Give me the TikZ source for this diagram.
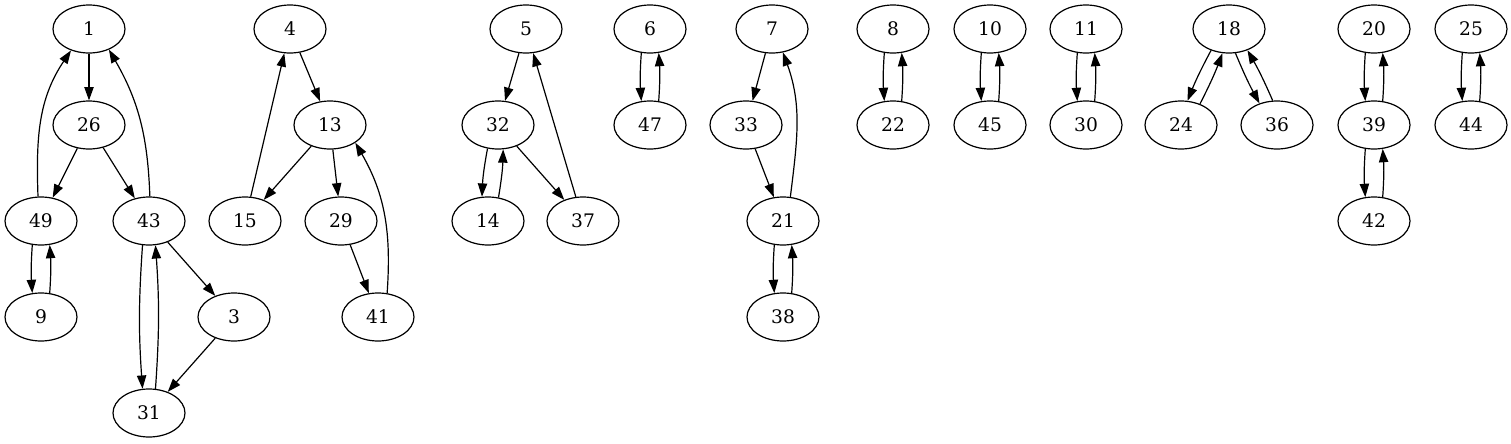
\documentclass[tikz,border=0pt]{standalone}
\usepackage{fontspec}
\setmainfont{DejaVu Serif}
\usetikzlibrary{shapes.geometric,arrows.meta}
\begin{document}
\begin{tikzpicture}[x=0.75pt,y=-0.75pt,
  gnode/.style={ellipse,draw,line width=0.9pt,minimum width=54pt,minimum height=36pt,inner sep=0pt,font=\fontsize{14}{16}\selectfont},
  garrow/.style={-{Triangle[length=10pt,width=7pt]},line width=0.9pt},
  pairb/.style={garrow,bend right=4}]
\useasboundingbox (0,0) rectangle (1511,443);
% nodes
\node[gnode] (n1)  at (89,29)  {1};
\node[gnode] (n26) at (89,125) {26};
\node[gnode] (n49) at (41,221) {49};
\node[gnode] (n43) at (149,221) {43};
\node[gnode] (n9)  at (41,317) {9};
\node[gnode] (n3)  at (234,317) {3};
\node[gnode] (n31) at (149,413) {31};
\node[gnode] (n4)  at (290,29) {4};
\node[gnode] (n13) at (330,125) {13};
\node[gnode] (n15) at (245,221) {15};
\node[gnode] (n29) at (341,221) {29};
\node[gnode] (n41) at (378,317) {41};
\node[gnode] (n5)  at (526,29) {5};
\node[gnode] (n32) at (498,125) {32};
\node[gnode] (n14) at (488,221) {14};
\node[gnode] (n37) at (583,221) {37};
\node[gnode] (n6)  at (650,29) {6};
\node[gnode] (n47) at (650,125) {47};
\node[gnode] (n7)  at (772,29) {7};
\node[gnode] (n33) at (746,125) {33};
\node[gnode] (n21) at (783,221) {21};
\node[gnode] (n38) at (783,317) {38};
\node[gnode] (n8)  at (893,29) {8};
\node[gnode] (n22) at (893,125) {22};
\node[gnode] (n10) at (990,29) {10};
\node[gnode] (n45) at (990,125) {45};
\node[gnode] (n11) at (1086,29) {11};
\node[gnode] (n30) at (1086,125) {30};
\node[gnode] (n18) at (1229,29) {18};
\node[gnode] (n24) at (1181,125) {24};
\node[gnode] (n36) at (1277,125) {36};
\node[gnode] (n20) at (1374,29) {20};
\node[gnode] (n39) at (1374,125) {39};
\node[gnode] (n42) at (1374,221) {42};
\node[gnode] (n25) at (1471,29) {25};
\node[gnode] (n44) at (1471,125) {44};
% edges
\draw[garrow] (n1) -- (n26);
\draw[garrow] (n26) -- (n49);
\draw[garrow] (n26) -- (n43);
\draw[garrow] (n49.97) to[out=92,in=236] (n1.230);
\draw[garrow] (n43.88) to[out=92,in=300] (n1.314);
\draw[pairb] (n49.250) to (n9.110);
\draw[pairb] (n9.70) to (n49.290);
\draw[pairb] (n43.255) to (n31.105);
\draw[pairb] (n31.75) to (n43.285);
\draw[garrow] (n43) -- (n3);
\draw[garrow] (n3) -- (n31);
\draw[garrow] (n4) -- (n13);
\draw[garrow] (n13) -- (n15);
\draw[garrow] (n13) -- (n29);
\draw[garrow] (n15) -- (n4);
\draw[garrow] (n29) -- (n41);
\draw[garrow] (n41.69) to[out=86,in=300] (n13.325);
\draw[garrow] (n5) -- (n32);
\draw[pairb] (n32.246) to (n14.104);
\draw[pairb] (n14.66) to (n32.282);
\draw[garrow] (n32) -- (n37);
\draw[garrow] (n37) -- (n5);
\draw[pairb] (n6.250) to (n47.110);
\draw[pairb] (n47.70) to (n6.290);
\draw[garrow] (n7) -- (n33);
\draw[garrow] (n33) -- (n21);
\draw[garrow] (n21.73) to[out=83,in=290] (n7.295);
\draw[pairb] (n21.250) to (n38.110);
\draw[pairb] (n38.70) to (n21.290);
\draw[pairb] (n8.250) to (n22.110);
\draw[pairb] (n22.70) to (n8.290);
\draw[pairb] (n10.250) to (n45.110);
\draw[pairb] (n45.70) to (n10.290);
\draw[pairb] (n11.250) to (n30.110);
\draw[pairb] (n30.70) to (n11.290);
\draw[garrow] (n18.230) to[bend right=3] (n24.75);
\draw[garrow] (n24.48) to[bend right=3] (n18.255);
\draw[garrow] (n18.285) to[bend right=3] (n36.129);
\draw[garrow] (n36.100) to[bend right=3] (n18.311);
\draw[pairb] (n20.250) to (n39.110);
\draw[pairb] (n39.70) to (n20.290);
\draw[pairb] (n39.250) to (n42.110);
\draw[pairb] (n42.70) to (n39.290);
\draw[pairb] (n25.250) to (n44.110);
\draw[pairb] (n44.70) to (n25.290);
\end{tikzpicture}
\end{document}
